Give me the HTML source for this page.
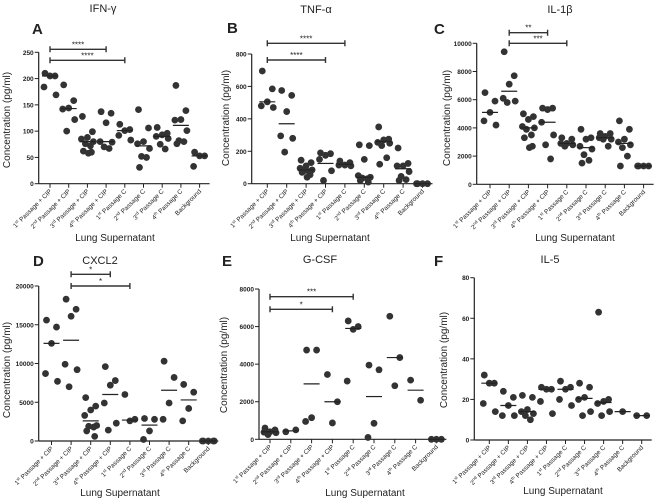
<!DOCTYPE html>
<html><head><meta charset="utf-8"><style>
html,body{margin:0;padding:0;background:#fff;}
svg{display:block;font-family:"Liberation Sans",sans-serif;}
</style></head><body>
<svg id="fig" width="660" height="502" viewBox="0 0 660 502" xmlns="http://www.w3.org/2000/svg"></svg>
<script>
const categories = ["1|st| Passage + CIP","2|nd| Passage + CIP","3|rd| Passage + CIP","4|th| Passage + CIP","1|st| Passage C","2|nd| Passage C","3|rd| Passage C","4|th| Passage C","Background"];

const ifnValues = [[210,205,205,184,169],[188,158,144,142,122,100],[128,99,88,85,80,76,72,62,60,58],[137,134,116,80,79,70,67],[113,103,101,92,83],[141,106,80,76,67,52,50,31],[107,96,93,90,86,75,66],[187,139,122,121,101,82,80,76],[60,53,53,33]];
const ifnMedians = [205,143,80,80,101,72,90,111,53];
const ifnTicks = [0,50,100,150,200,250];

const tnfValues = [[695,585,505,480,470],[575,545,445,295,280,195],[145,130,110,95,85,80,75,70,55,40],[190,185,175,150,80,20],[140,130,115,115,110],[240,235,150,50,40,35,30,20,10],[350,275,270,255,250,235,160,120],[220,125,110,110,75,45,25,20],[0,0,0,0]];
const tnfMedians = [505,370,85,125,120,40,260,92,0];
const tnfTicks = [0,200,400,600,800];

const il1Values = [[6500,5900,5100,4500,4200],[9400,7700,7100,6100,5900,5800],[5000,4800,4600,4100,4000,3900,3500,3300,2700,2600],[5400,5400,5300,4400,3500,2800,1800],[3300,3200,2900,2900,2800,2700],[3900,3300,3200,2700,2500,2100,1700,1500],[3600,3600,3400,3300,3200,3200,2700],[4500,3900,3200,3000,2800,2600,2000,1300],[1300,1300,1300,1300]];
const il1Medians = [5100,6600,4000,4400,2900,2600,3300,2900,1300];
const il1Ticks = [0,2000,4000,6000,8000,10000];

const cxclValues = [[15600,14700,12600,8700,7700],[18300,17000,16100,9900,9200,7000],[5600,4500,4000,3300,2000,1900,1800,1300,600],[9600,7800,7200,4900,2300,1400],[6000,2800,2600],[2900,2800,1300,200],[10300,8200,4900,2800],[7300,6300,4200,2600],[0,0,0,0,0]];
const cxclMedians = [12600,13000,2600,6000,2700,2050,6550,5300,0];
const cxclTicks = [0,5000,10000,15000,20000];

const gcsfValues = [[600,500,400,380,350,250],[400,500],[4750,4750,1150,950],[3450,2000,870],[6300,6000,5850,3100],[3950,3700,850,100],[6550,4350,2850],[3150,2080],[0,0,0]];
const gcsfMedians = [400,450,2950,2000,5900,2275,4350,2615,0];
const gcsfTicks = [0,2000,4000,6000,8000];

const il5Values = [[32,28,28,18,14],[24,21,17,12,12],[22,21,15,14,13,12,10],[26,25,25,19,13],[29,26,25,20,17],[28,26,21,20,14,12],[63,20,19,18,14,12],[14],[12,12]];
const il5Medians = [28,17,14,25,25,20.5,18.5,14,12];
const il5Ticks = [0,20,40,60,80];

const NS="http://www.w3.org/2000/svg";
const svg=document.getElementById('fig');
function mk(tag,attrs,parent){const e=document.createElementNS(NS,tag);for(const k in attrs)e.setAttribute(k,attrs[k]);(parent||svg).appendChild(e);return e;}

function panel(o){
  const g=mk('g',{});
  
  
  const yMax=o.ticks[o.ticks.length-1];
  const yS=v=>o.y0-(v/yMax)*(o.y0-o.yTop);
  const xS=i=>o.x1+i*o.step;
  const col='#333';
  let t=mk('text',{x:o.tx,y:o.ty,'font-size':11,'text-anchor':'middle',fill:'#222'},g);t.textContent=o.title;
  
  
  t=mk('text',{x:o.lx,y:o.ly,'font-size':15,'font-weight':'bold',fill:'#222'},g);t.textContent=o.letter;
  
  
  const xEnd=xS(categories.length-1)+10;
  let a=mk('line',{x1:o.ax,y1:o.y0,x2:o.ax,y2:o.yTop,stroke:'#222','stroke-width':1.2},g);
  
  
  a=mk('line',{x1:o.ax,y1:o.y0,x2:xEnd,y2:o.y0,stroke:'#222','stroke-width':1.2},g);
  
  
  o.ticks.forEach(v=>{
    mk('line',{x1:o.ax-4,y1:yS(v),x2:o.ax,y2:yS(v),stroke:'#222','stroke-width':1},g);
    const tl=mk('text',{x:o.ax-5,y:yS(v)+2.5,'font-size':6.5,'text-anchor':'end',fill:'#222','font-weight':'bold'},g);
    tl.textContent=v;
    
    
  });
  categories.forEach((c,i)=>{
    const x=xS(i);
    mk('line',{x1:x,y1:o.y0,x2:x,y2:o.y0+4,stroke:'#222','stroke-width':1},g);
    const parts=c.split('|');
    const tl=mk('text',{x:x+2,y:o.y0+8,'font-size':6.4,'text-anchor':'end',fill:'#222',transform:`rotate(-45 ${x+2} ${o.y0+8})`},g);
    
    
    if(parts.length===3){
      const s1=mk('tspan',{},tl);s1.textContent=parts[0];
      const s2=mk('tspan',{'font-size':4.3,dy:-2.5},tl);s2.textContent=parts[1];
      const s3=mk('tspan',{dy:2.5},tl);s3.textContent=parts[2];
    } else tl.textContent=c;
  });
  t=mk('text',{x:o.ytx,y:o.yty,'font-size':10,'text-anchor':'middle',fill:'#222',transform:`rotate(-90 ${o.ytx} ${o.yty})`},g);
  t.textContent='Concentration (pg/ml)';
  
  
  t=mk('text',{x:o.xtx,y:o.xty,'font-size':10,'text-anchor':'middle',fill:'#222'},g);
  t.textContent='Lung Supernatant';
  
  
  const offs=[-5,5,0,-6,6,-2,3,-4,4,1];
  o.values.forEach((arr,i)=>{
    arr.forEach((v,j)=>{
      const off=arr.length===1?0:offs[j%offs.length];
      const c=mk('circle',{cx:xS(i)+off,cy:yS(v),r:3.4,fill:col},g);
      
      
    });
    const m=mk('line',{x1:xS(i)-8,x2:xS(i)+8,y1:yS(o.medians[i]),y2:yS(o.medians[i]),stroke:'#222','stroke-width':1.2},g);
    
    
  });
  o.brackets.forEach(b=>{
    const x1=xS(b[0]),x2=xS(b[1]),y=b[2];
    const p=mk('path',{d:`M${x1} ${y-3}V${y+3}M${x1} ${y}H${x2}M${x2} ${y-3}V${y+3}`,stroke:'#333','stroke-width':1.4,fill:'none'},g);
    
    
    const s=mk('text',{x:(x1+x2)/2,y:y-2,'font-size':8,'text-anchor':'middle',fill:'#222'},g);
    s.textContent=b[3];
    
    
  });
}

panel({name:'ifn-gamma',title:'IFN-γ',letter:'A',tx:103,ty:12,lx:32,ly:34,ax:38.7,y0:183.7,yTop:52.3,x1:50,step:18.7,ticks:ifnTicks,values:ifnValues,medians:ifnMedians,ytx:10,yty:120,xtx:115,xty:241,brackets:[[0,3,49.3,'****'],[0,4,60.3,'****']]});
panel({name:'tnf-alpha',title:'TNF-α',letter:'B',tx:316,ty:13,lx:227,ly:33,ax:251.7,y0:183.7,yTop:54,x1:267.3,step:19.4,ticks:tnfTicks,values:tnfValues,medians:tnfMedians,ytx:229,yty:118,xtx:330,xty:241,brackets:[[0,4,43.3,'****'],[0,3,60,'****']]});
panel({name:'il-1-beta',title:'IL-1β',letter:'C',tx:560,ty:13,lx:434,ly:34,ax:476.7,y0:184.3,yTop:43.3,x1:490,step:19.2,ticks:il1Ticks,values:il1Values,medians:il1Medians,ytx:450,yty:118,xtx:575,xty:241,brackets:[[1,3,32.7,'**'],[1,4,43.3,'***']]});
panel({name:'cxcl2',title:'CXCL2',letter:'D',tx:100,ty:264,lx:33,ly:266,ax:38.7,y0:441,yTop:286,x1:51.5,step:19.6,ticks:cxclTicks,values:cxclValues,medians:cxclMedians,ytx:10,yty:370,xtx:120,xty:496,brackets:[[1,3,274.3,'*'],[1,4,286,'*']]});
panel({name:'g-csf',title:'G-CSF',letter:'E',tx:320,ty:263,lx:222,ly:266,ax:259,y0:439.3,yTop:289,x1:270,step:20.8,ticks:gcsfTicks,values:gcsfValues,medians:gcsfMedians,ytx:227,yty:365,xtx:365,xty:496,brackets:[[0,4,296.7,'***'],[0,3,309.3,'*']]});
panel({name:'il-5',title:'IL-5',letter:'F',tx:550,ty:263,lx:434,ly:266,ax:474.3,y0:440,yTop:277.7,x1:489.3,step:19.05,ticks:il5Ticks,values:il5Values,medians:il5Medians,ytx:447,yty:360,xtx:563,xty:494,brackets:[]});
</script>
</body></html>
